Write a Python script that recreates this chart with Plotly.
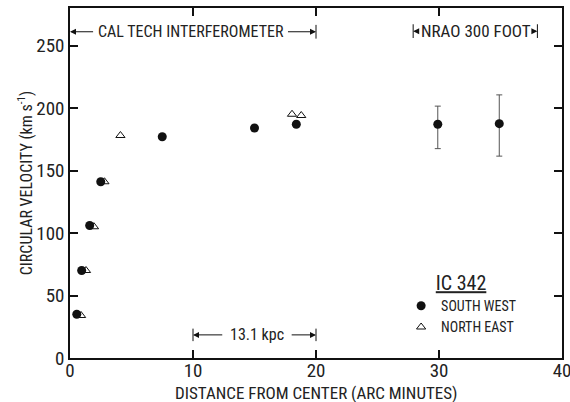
"""IC 342 : courbe de rotation (vitesse circulaire vs distance au centre)."""
import plotly.graph_objects as go

# --- donnees ---
sw_x = [0.55, 0.95, 1.6, 2.5, 7.5, 15.0, 18.4]
sw_y = [35, 70, 106, 141, 177, 184, 187]

# points NRAO 300 ft (avec barres d'erreur)
nrao_x = [29.9, 34.9]
nrao_y = [187, 187.5]
nrao_err_up = [14.5, 23]
nrao_err_down = [19.5, 26]

ne_x = [0.9, 1.3, 1.95, 2.8, 4.1, 18.05, 18.8]
ne_y = [34, 70, 105, 141, 178, 195, 194]

x_ticks = [0, 10, 20, 30, 40]
y_ticks = [0, 50, 100, 150, 200, 250]

FONT = "Liberation Sans Narrow, Roboto Condensed, DejaVu Sans Condensed, Liberation Sans"
BLACK = "#111111"
GREY = "#222222"

fig = go.Figure()

fig.add_trace(go.Scatter(
    x=sw_x, y=sw_y, mode="markers", name="SOUTH WEST",
    marker=dict(symbol="circle", size=9, color=BLACK),
))
fig.add_trace(go.Scatter(
    x=nrao_x, y=nrao_y, mode="markers", name="SOUTH WEST", showlegend=False,
    marker=dict(symbol="circle", size=9, color=BLACK),
    error_y=dict(type="data", symmetric=False, array=nrao_err_up,
                 arrayminus=nrao_err_down, color="#555555", thickness=1, width=3),
))
fig.add_trace(go.Scatter(
    x=ne_x, y=ne_y, mode="markers", name="NORTH EAST",
    marker=dict(symbol="triangle-up-open", size=8, color=BLACK,
                line=dict(width=1, color=BLACK)),
))

annotations = [
    # CAL TECH INTERFEROMETER
    dict(x=9.8, y=261, text="CAL TECH INTERFEROMETER", showarrow=False,
         font=dict(size=16)),
    dict(x=0, y=261, ax=2.0, ay=261, text=""),
    dict(x=20, y=261, ax=17.6, ay=261, text=""),
    # NRAO 300 FOOT
    dict(x=33.0, y=261.5, text="NRAO 300 FOOT", showarrow=False,
         font=dict(size=17)),
    dict(x=27.9, y=261.5, ax=28.3, ay=261.5, text=""),
    dict(x=38.0, y=261.5, ax=37.6, ay=261.5, text=""),
    # 13.1 kpc
    dict(x=15.2, y=18.5, text="13.1 kpc", showarrow=False, font=dict(size=16)),
    dict(x=10, y=18.5, ax=12.5, ay=18.5, text=""),
    dict(x=20, y=18.5, ax=17.9, ay=18.5, text=""),
]
for a in annotations:
    a.setdefault("xref", "x")
    a.setdefault("yref", "y")
    if "ax" in a:
        a.update(axref="x", ayref="y", showarrow=True, arrowhead=2,
                 arrowsize=1.2, arrowwidth=1, arrowcolor=BLACK)
    else:
        a["font"]["color"] = GREY

# titre de l'axe x en annotation pour controler sa position
annotations.append(dict(
    x=0.5, y=-0.1, xref="paper", yref="paper", yanchor="middle",
    text="DISTANCE FROM CENTER (ARC MINUTES)", showarrow=False,
    font=dict(size=17, color=GREY),
))
fig.update_layout(annotations=annotations)

bars = [(20, 255.5, 266.5), (27.9, 256, 267), (38.0, 256, 267),
        (10, 13.5, 23.5), (20, 13.5, 23.5)]
for bx, b0, b1 in bars:
    fig.add_shape(type="line", xref="x", yref="y", x0=bx, x1=bx, y0=b0, y1=b1,
                  line=dict(color=BLACK, width=1))

axis_common = dict(
    showgrid=False, zeroline=False, showline=True, linecolor=BLACK, linewidth=1.5,
    mirror="ticks", ticks="inside", ticklen=8, tickwidth=1.5, tickcolor=BLACK,
    tickfont=dict(size=19, color=GREY), automargin=False,
    ticklabeloverflow="allow",
)

fig.update_xaxes(range=[0, 40], tickvals=x_ticks, ticklabelstandoff=-6,
                 **axis_common)
fig.update_yaxes(
    range=[0, 280], tickvals=y_ticks,
    title=dict(text="CIRCULAR VELOCITY (km s<sup>-1</sup>)", standoff=0,
               font=dict(size=16, color=GREY)),
    **axis_common,
)

fig.update_layout(
    width=570, height=402,
    margin=dict(l=70, r=8, t=8, b=44),
    paper_bgcolor="white", plot_bgcolor="white",
    font=dict(family=FONT, color=BLACK),
    legend=dict(
        title=dict(text="<u>IC 342</u>", side="top center",
                   font=dict(size=20, color=GREY)),
        x=0.673, y=0.268, xanchor="left", yanchor="top",
        bgcolor="rgba(0,0,0,0)", font=dict(size=14, color=GREY),
        itemwidth=30, tracegroupgap=0,
    ),
)

# la page par defaut a une marge de 8 px autour du graphique
fig.write_html("out.html", config={"displayModeBar": False},
               post_script="document.body.style.margin = '0';")
